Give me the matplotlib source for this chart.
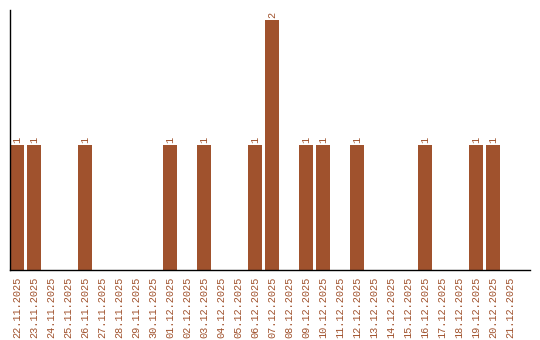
import matplotlib
matplotlib.use('Agg')
import matplotlib.pyplot as plt
import numpy as np

# daily counts
dates = ['22.11.2025', '23.11.2025', '24.11.2025', '25.11.2025', '26.11.2025',
         '27.11.2025', '28.11.2025', '29.11.2025', '30.11.2025', '01.12.2025',
         '02.12.2025', '03.12.2025', '04.12.2025', '05.12.2025', '06.12.2025',
         '07.12.2025', '08.12.2025', '09.12.2025', '10.12.2025', '11.12.2025',
         '12.12.2025', '13.12.2025', '14.12.2025', '15.12.2025', '16.12.2025',
         '17.12.2025', '18.12.2025', '19.12.2025', '20.12.2025', '21.12.2025']
counts = [1, 1, 0, 0, 1, 0, 0, 0, 0, 1,
          0, 1, 0, 0, 1, 2, 0, 1, 1, 0,
          1, 0, 0, 0, 1, 0, 0, 1, 1, 0]

col = '#a0522d'

fig = plt.figure(figsize=(5.4, 3.4), dpi=100)
ax = fig.add_axes([10/540, 70/340, 520/540, 260/340])

x = np.arange(len(dates))
ax.bar(x, counts, width=14/17, color=col)

for xi, c in zip(x, counts):
    if c > 0:
        ax.text(xi, c + 0.02, str(c), rotation=90, ha='center', va='bottom',
                color=col, fontsize=7.4, family='Liberation Mono')

ax.set_xlim(-7/17, 30.18)
ax.set_ylim(0, 2.08)
ax.set_xticks(x)
ax.set_xticklabels(dates, rotation=90, color=col, fontsize=7.4, family='Liberation Mono')
ax.tick_params(axis='x', length=0, pad=5)
ax.set_yticks([])
for s in ['top', 'right']:
    ax.spines[s].set_visible(False)
ax.spines['left'].set_linewidth(1)
ax.spines['bottom'].set_linewidth(1)

fig.savefig('out.png', dpi=100)
